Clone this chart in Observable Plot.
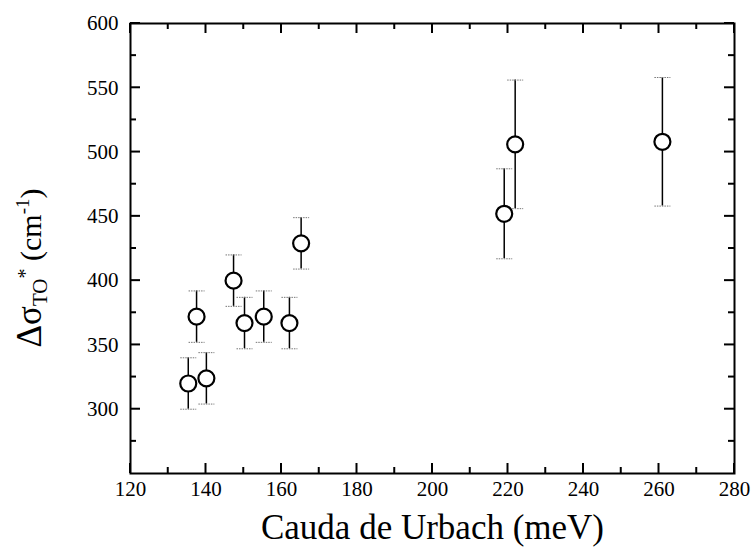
<!DOCTYPE html>
<html>
<head>
<meta charset="utf-8">
<script src="https://cdn.jsdelivr.net/npm/d3@7"></script>
<script src="https://cdn.jsdelivr.net/npm/@observablehq/plot@0.6"></script>
<style>
  html, body { margin: 0; padding: 0; background: white; }
  #chart svg text { font-family: 'Liberation Serif', 'Times New Roman', serif; }
</style>
</head>
<body>
<div id="chart"></div>
<script>
// Urbach tail energy (meV) vs. TO* band width (cm^-1), with error bars
const urbach = [135.3, 137.5, 140.1, 147.3, 150.2, 155.3, 162.1, 165.2, 219.0, 221.9, 260.9];
const deltaSigma = [320, 372, 324, 400, 367, 372, 367, 429, 452, 506, 508];
const sigmaErr = [20, 20, 20, 20, 20, 20, 20, 20, 35, 50, 50];

const xMajor = [120, 140, 160, 180, 200, 220, 240, 260, 280];
const xMinor = [130, 150, 170, 190, 210, 230, 250, 270];
const yMajor = [300, 350, 400, 450, 500, 550, 600];
const yMinor = [275, 325, 375, 425, 475, 525, 575];

const xTitle = "Cauda de Urbach (meV)";

const points = urbach.map((x, i) => ({x, y: deltaSigma[i], e: sigmaErr[i]}));

const serif = "'Liberation Serif', 'Times New Roman', serif";

// short horizontal bar used as the error-bar cap
const capSymbol = {
  draw(context, size) {
    const w = Math.sqrt(size / Math.PI);
    context.moveTo(-w, 0);
    context.lineTo(w, 0);
  }
};

// inward tick marks on all four sides of the frame, placed with the plot's scales
function frameTicks(index, scales, values, dimensions) {
  const {width, height, marginTop, marginRight, marginBottom, marginLeft} = dimensions;
  const x0 = marginLeft, x1 = width - marginRight;
  const y0 = marginTop, y1 = height - marginBottom;
  const g = d3.create("svg:g")
    .attr("stroke", "black")
    .attr("stroke-width", 2)
    .attr("fill", "none");
  const xt = [...xMajor.map(v => [v, 10]), ...xMinor.map(v => [v, 6])];
  const yt = [...yMajor.map(v => [v, 10]), ...yMinor.map(v => [v, 6])];
  for (const [v, len] of xt) {
    const px = scales.x(v);
    g.append("line").attr("x1", px).attr("x2", px).attr("y1", y1).attr("y2", y1 - len);
    g.append("line").attr("x1", px).attr("x2", px).attr("y1", y0).attr("y2", y0 + len);
  }
  for (const [v, len] of yt) {
    const py = scales.y(v);
    g.append("line").attr("y1", py).attr("y2", py).attr("x1", x0).attr("x2", x0 + len);
    g.append("line").attr("y1", py).attr("y2", py).attr("x1", x1).attr("x2", x1 - len);
  }
  return g.node();
}

// rotated y title with subscript / superscripts
function yTitle(index, scales, values, dimensions) {
  const {marginTop, marginBottom, height} = dimensions;
  const cy = marginTop + (height - marginTop - marginBottom) / 2 + 20;
  const t = d3.create("svg:text")
    .attr("transform", `translate(41,${cy}) rotate(-90)`)
    .attr("text-anchor", "middle")
    .attr("font-family", serif)
    .attr("font-size", 30)
    .attr("fill", "black");
  t.append("tspan").attr("font-size", 35).text("Δσ");
  t.append("tspan").attr("font-size", 21).attr("dy", 6).text("TO");
  t.append("tspan").attr("font-size", 20).attr("dy", -15).text("*");
  t.append("tspan").attr("dy", 9).text(" (cm");
  t.append("tspan").attr("font-size", 19).attr("dy", -12).text("-1");
  t.append("tspan").attr("dy", 12).text(")");
  return t.node();
}

const labelStyle = {fontFamily: serif, fontSize: 21, fill: "black"};

const chart = Plot.plot({
  width: 755,
  height: 547,
  marginLeft: 130,
  marginRight: 21,
  marginTop: 23,
  marginBottom: 74,
  style: {fontFamily: serif, fontSize: "21px", background: "white", color: "black"},
  x: {domain: [120, 280], axis: null},
  y: {domain: [250, 600], axis: null},
  marks: [
    // tick labels
    Plot.text(xMajor, {x: d => d, text: d => String(d), frameAnchor: "bottom", lineAnchor: "top", dy: 8, ...labelStyle}),
    Plot.text(yMajor, {y: d => d, text: d => String(d), frameAnchor: "left", textAnchor: "end", lineAnchor: "middle", dx: -12, ...labelStyle}),
    frameTicks,
    Plot.frame({stroke: "black", strokeWidth: 2, fill: "none"}),
    // error bars
    Plot.ruleX(points, {x: "x", y1: d => d.y - d.e, y2: d => d.y + d.e, stroke: "black", strokeWidth: 1.5}),
    Plot.dot(points, {x: "x", y: d => d.y + d.e, symbol: capSymbol, r: 8, stroke: "#777", strokeWidth: 1, strokeDasharray: "1.5,1"}),
    Plot.dot(points, {x: "x", y: d => d.y - d.e, symbol: capSymbol, r: 8, stroke: "#777", strokeWidth: 1, strokeDasharray: "1.5,1"}),
    // data points
    Plot.dot(points, {x: "x", y: "y", r: 8, fill: "white", stroke: "black", strokeWidth: 2.2}),
    // axis titles
    Plot.text([xTitle], {frameAnchor: "bottom", dy: 54, lineAnchor: "middle", fontSize: 35, fontFamily: serif, fill: "black"}),
    yTitle
  ]
});

document.getElementById("chart").appendChild(chart);
</script>
</body>
</html>
